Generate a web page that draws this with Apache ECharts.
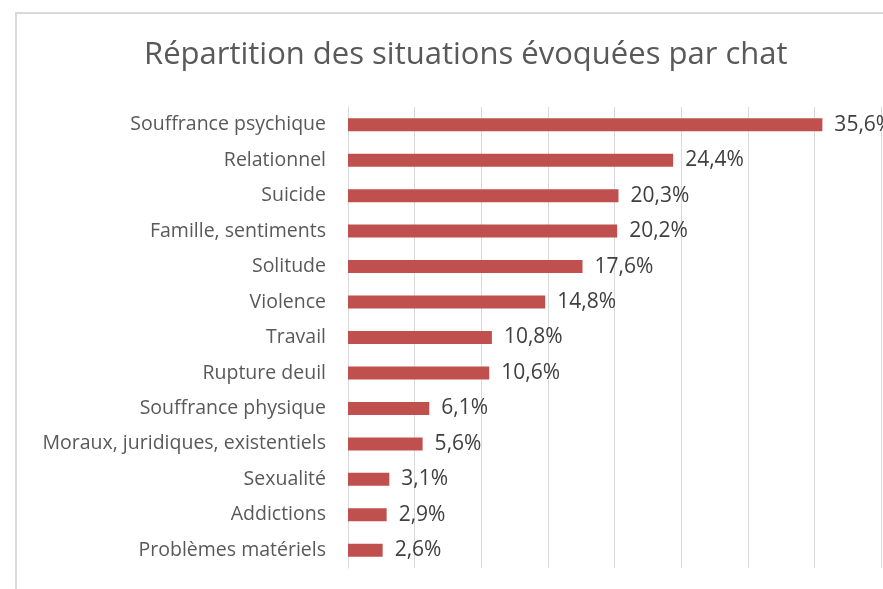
<!DOCTYPE html>
<html lang="fr">
<head>
    <meta charset="UTF-8">
    <script src="https://cdn.jsdelivr.net/npm/echarts@6/dist/echarts.min.js"></script>
    <title>Répartition des situations</title>
    <style>
        html, body { margin: 0; padding: 0; background: #fff; }
    </style>
</head>
<body>
<div id="chart" style="width:883px;height:589px;"></div>
<script>
    // catégories (de haut en bas dans le graphique)
    var categories = [
        'Souffrance psychique', 'Relationnel', 'Suicide', 'Famille, sentiments',
        'Solitude', 'Violence', 'Travail', 'Rupture deuil', 'Souffrance physique',
        'Moraux, juridiques, existentiels', 'Sexualité', 'Addictions', 'Problèmes matériels'
    ];
    var values = [35.6, 24.4, 20.3, 20.2, 17.6, 14.8, 10.8, 10.6, 6.1, 5.6, 3.1, 2.9, 2.6];

    var font = '"Open Sans", sans-serif';
    var myChart = echarts.init(document.getElementById('chart'));

    var option = {
        animation: false,
        backgroundColor: '#ffffff',
        title: {
            text: 'Répartition des situations évoquées par chat',
            left: 139,
            top: 35,
            textStyle: {
                color: '#595959',
                fontFamily: font,
                fontWeight: 'normal',
                fontSize: 31
            }
        },
        graphic: [{
            type: 'rect',
            shape: { x: 16, y: 13, width: 900, height: 600 },
            style: { fill: 'none', stroke: '#d9d9d9', lineWidth: 2 },
            silent: true
        }],
        grid: {
            left: 348,
            right: 2,
            top: 107,
            bottom: 21,
            containLabel: false
        },
        xAxis: {
            type: 'value',
            min: 0,
            max: 40,
            interval: 5,
            axisLabel: { show: false },
            axisLine: { show: false },
            axisTick: { show: false },
            splitLine: { lineStyle: { color: '#d9d9d9', width: 1 } }
        },
        yAxis: {
            type: 'category',
            inverse: true,
            data: categories,
            axisLine: { show: true, lineStyle: { color: '#d9d9d9' } },
            axisTick: { show: false },
            axisLabel: {
                color: '#595959',
                fontFamily: font,
                fontSize: 19.5,
                margin: 22
            }
        },
        series: [{
            type: 'bar',
            data: values,
            barWidth: 13,
            itemStyle: { color: '#c0504d' },
            label: {
                show: true,
                position: 'right',
                distance: 12,
                color: '#404040',
                fontFamily: font,
                fontSize: 21,
                formatter: function (p) {
                    return p.value.toFixed(1).replace('.', ',') + '%';
                }
            }
        }]
    };
    myChart.setOption(option);
</script>
</body>
</html>
